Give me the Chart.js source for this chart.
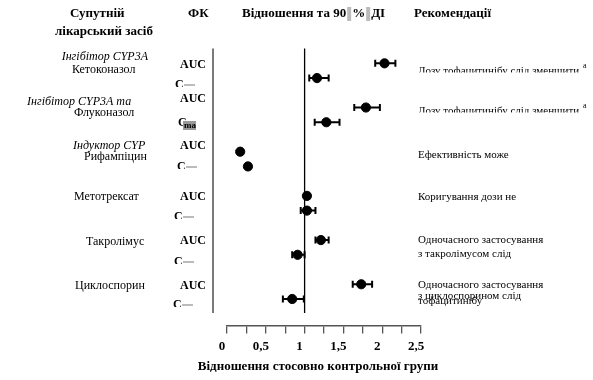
<!DOCTYPE html>
<html>
<head>
<meta charset="utf-8">
<script src="https://cdn.jsdelivr.net/npm/chart.js"></script>
<style>
  body { margin: 0; background: #fff; }
  canvas { display: block; }
</style>
</head>
<body>
<canvas id="forest" width="593" height="380"></canvas>
<script>
// rows: AUC / Cmax for each co-administered drug
var drugs = ["Кетоконазол", "Флуконазол", "Рифампіцин", "Метотрексат", "Такролімус", "Циклоспорин"];
var pkParams = ["AUC", "Cmax"];
var rowPos = [0, 1, 3, 4, 6, 7, 9, 10, 12, 13, 15, 16];
var ratios = [2.03, 1.16, 1.79, 1.28, 0.17, 0.27, 1.03, 1.03, 1.21, 0.91, 1.73, 0.84];
var ciLow  = [1.91, 1.06, 1.64, 1.13, 0.15, 0.25, 1.00, 0.95, 1.14, 0.84, 1.62, 0.72];
var ciHigh = [2.17, 1.31, 1.97, 1.45, 0.19, 0.30, 1.06, 1.14, 1.31, 1.00, 1.87, 0.99];
var xTicks = [0, 0.5, 1, 1.5, 2, 2.5];
var xTickLabels = ["0", "0,5", "1", "1,5", "2", "2,5"];
var xTitle = "Відношення стосовно контрольної групи";

var SERIF = '"Liberation Serif", "DejaVu Serif", serif';
Chart.defaults.font.family = SERIF;
Chart.defaults.color = "#000";

var points = ratios.map(function (r, i) { return { x: r, y: rowPos[i] }; });

function txt(ctx, s, x, y, font, align) {
  ctx.font = font;
  ctx.textAlign = align || "left";
  ctx.fillText(s, x, y);
}
function clipped(ctx, s, x, y, font, bottom) {
  ctx.save();
  ctx.beginPath();
  ctx.rect(0, 0, 593, bottom);
  ctx.clip();
  txt(ctx, s, x, y, font);
  ctx.restore();
}

var errorBars = {
  id: "errorBars",
  beforeDatasetsDraw: function (chart) {
    var ctx = chart.ctx, xs = chart.scales.x, ys = chart.scales.y;
    ctx.save();
    ctx.strokeStyle = "#000";
    ctx.lineWidth = 2;
    for (var i = 0; i < ratios.length; i++) {
      var y = ys.getPixelForValue(rowPos[i]);
      var x1 = xs.getPixelForValue(ciLow[i]), x2 = xs.getPixelForValue(ciHigh[i]);
      ctx.beginPath();
      ctx.moveTo(x1, y); ctx.lineTo(x2, y);
      ctx.moveTo(x1, y - 3.5); ctx.lineTo(x1, y + 3.5);
      ctx.moveTo(x2, y - 3.5); ctx.lineTo(x2, y + 3.5);
      ctx.stroke();
    }
    // left frame line and line of no effect
    var top = ys.getPixelForValue(-1), bot = ys.getPixelForValue(16.95);
    ctx.lineWidth = 1.3;
    ctx.strokeStyle = "#333";
    ctx.beginPath();
    ctx.moveTo(chart.chartArea.left - 14, top); ctx.lineTo(chart.chartArea.left - 14, bot);
    ctx.stroke();
    ctx.strokeStyle = "#000";
    var xr = xs.getPixelForValue(1);
    ctx.beginPath();
    ctx.moveTo(xr, top); ctx.lineTo(xr, bot);
    ctx.stroke();
    ctx.restore();
  }
};

var textLayer = {
  id: "textLayer",
  afterDraw: function (chart) {
    var ctx = chart.ctx;
    ctx.save();
    ctx.fillStyle = "#000";
    ctx.textBaseline = "middle";
    var hb = "bold 13px " + SERIF;
    txt(ctx, "Супутній", 70, 14, hb);
    txt(ctx, "лікарський засіб", 55, 32, hb);
    txt(ctx, "ФК", 188, 14, hb);
    ctx.font = hb;
    var hx = 242;
    txt(ctx, "Відношення та 90", hx, 14, hb);
    hx += ctx.measureText("Відношення та 90").width + 1;
    ctx.fillStyle = "#bbb"; ctx.fillRect(hx, 7, 4, 14); ctx.fillStyle = "#000";
    hx += 5;
    txt(ctx, "%", hx, 14, hb);
    hx += ctx.measureText("%").width + 1;
    ctx.fillStyle = "#bbb"; ctx.fillRect(hx, 7, 4, 14); ctx.fillStyle = "#000";
    hx += 5;
    txt(ctx, "ДІ", hx, 14, hb);
    txt(ctx, "Рекомендації", 414, 14, hb);

    var r = "12px " + SERIF, it = "italic 12px " + SERIF;
    txt(ctx, "Інгібітор CYP3A", 148, 57, it, "right");
    txt(ctx, drugs[0], 72, 70, r);
    txt(ctx, "Інгібітор CYP3A та", 27, 102, it);
    txt(ctx, drugs[1], 74, 113, r);
    txt(ctx, "Індуктор CYP", 73, 146, it);
    txt(ctx, drugs[2], 84, 157, r);
    txt(ctx, drugs[3], 74, 197, r);
    txt(ctx, drugs[4], 86, 242, r);
    txt(ctx, drugs[5], 75, 286, r);

    var fb = "bold 12px " + SERIF;
    [65, 99, 146, 197, 241, 286].forEach(function (y) { txt(ctx, pkParams[0], 180, y, fb); });
    var cRows = [[175, 85], [177, 167], [174, 217], [174, 262], [173, 305]];
    cRows.forEach(function (c) {
      clipped(ctx, "C", c[0], c[1], fb, c[1] + 2);
      ctx.fillStyle = "#bbb";
      ctx.fillRect(c[0] + 9, c[1] - 1, 11, 2);
      ctx.fillStyle = "#000";
    });
    txt(ctx, "C", 178, 123, fb);
    ctx.fillStyle = "#999";
    ctx.fillRect(183, 121, 13, 9);
    ctx.fillStyle = "#000";
    txt(ctx, "ma", 184, 126, "bold 9px " + SERIF);

    var rc = "11px " + SERIF;
    clipped(ctx, "Дозу тофацитинібу слід зменшити", 418, 71, rc, 72.5);
    txt(ctx, "a", 583, 66, "8px " + SERIF);
    clipped(ctx, "Дозу тофацитинібу слід зменшити", 418, 111, rc, 112.5);
    txt(ctx, "a", 583, 106, "8px " + SERIF);
    txt(ctx, "Ефективність може", 418, 155, rc);
    txt(ctx, "Коригування дози не", 418, 197, rc);
    txt(ctx, "Одночасного застосування", 418, 240, rc);
    txt(ctx, "з такролімусом слід", 418, 254, rc);
    txt(ctx, "Одночасного застосування", 418, 285, rc);
    txt(ctx, "з циклоспорином слід", 418, 296, rc);
    txt(ctx, "тофацитинібу", 418, 301, rc);

    txt(ctx, xTitle, 318, 367, "bold 13px " + SERIF, "center");
    ctx.restore();
  }
};

new Chart(document.getElementById("forest"), {
  type: "scatter",
  data: {
    datasets: [{
      data: points,
      backgroundColor: "#000",
      borderColor: "#000",
      pointRadius: 4.6,
      pointHoverRadius: 4.6
    }]
  },
  options: {
    responsive: false,
    animation: false,
    layout: { padding: { left: 227, right: 172, top: 48.6, bottom: 0 } },
    plugins: { legend: { display: false }, tooltip: { enabled: false } },
    scales: {
      y: { display: false, reverse: true, min: -1, max: 17.8 },
      x: {
        min: 0, max: 2.5,
        afterFit: function (s) { s.height = 54.5; },
        border: { display: true, color: "#555", width: 1.5 },
        grid: { drawOnChartArea: false, drawTicks: true, tickLength: 8, color: "#555", lineWidth: 1.3 },
        ticks: {
          stepSize: 0.25, autoSkip: false, maxRotation: 0, padding: 5, labelOffset: -5,
          font: { weight: "bold", size: 13 },
          callback: function (v) {
            var k = xTicks.indexOf(Math.round(v * 100) / 100);
            return k >= 0 ? xTickLabels[k] : "";
          }
        },
        title: { display: false }
      }
    }
  },
  plugins: [errorBars, textLayer]
});
</script>
</body>
</html>
